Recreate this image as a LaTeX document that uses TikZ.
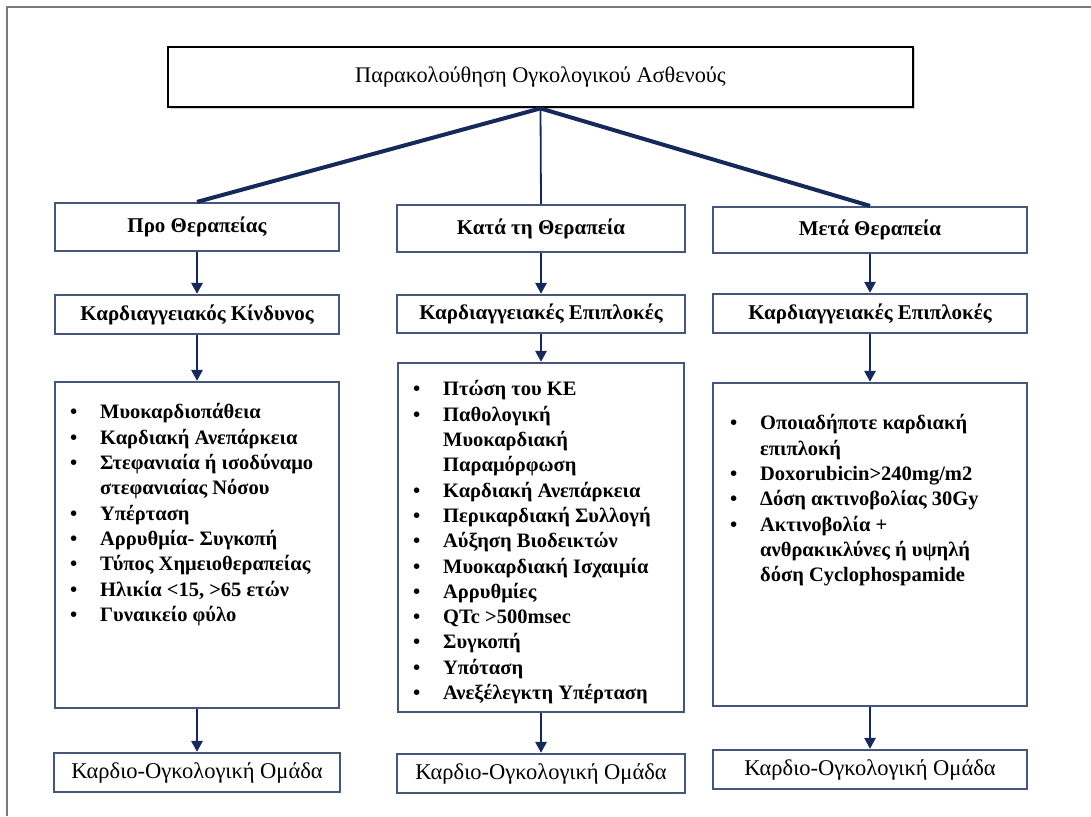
\documentclass[tikz,border=0pt]{standalone}
\usepackage{fontspec}
\setmainfont{Liberation Serif}
\usetikzlibrary{arrows.meta,shadows}

\definecolor{navy}{HTML}{16295A}
\definecolor{boxline}{HTML}{45567A}
\definecolor{framegray}{HTML}{7A7A7A}

\newcommand{\bul}{\llap{\textbullet\hspace{23pt}}}

\tikzset{
  topbox/.style={draw=black, line width=2.8pt, fill=white, inner sep=0pt,
    drop shadow={shadow xshift=1.5pt, shadow yshift=-1.5pt, opacity=0.35},
    font=\fontsize{22.3}{26}\selectfont},
  stagebox/.style={draw=boxline, line width=2.2pt, fill=white, inner sep=0pt,
    drop shadow={shadow xshift=1.2pt, shadow yshift=-1.2pt, opacity=0.2},
    font=\fontsize{21}{25}\selectfont\bfseries},
  teambox/.style={stagebox, font=\fontsize{22.5}{26}\selectfont},
  listtext/.style={anchor=north west, inner sep=0pt, align=left,
    font=\fontsize{20.5}{25.3}\selectfont\bfseries},
  branch/.style={draw=navy, line width=4pt},
  trunk/.style={draw=navy, line width=1.8pt},
  flow/.style={draw=navy, line width=2.8pt,
    -{Triangle[length=11pt, width=11pt]}},
}

\begin{document}
\begin{tikzpicture}[x=1pt, y=-1pt]
  \useasboundingbox (0,0) rectangle (1091,816);
  \fill[white] (0,0) rectangle (1091,816);

  % page frame (top and left edges)
  \draw[framegray, line width=1.6pt] (7,816) -- (7,7) -- (1091,7);

  % title
  \node[topbox, minimum width=745pt, minimum height=60pt] (top) at (540.5,77)
    {Παρακολούθηση Ογκολογικού Ασθενούς};

  % left column
  \node[stagebox, minimum width=284pt, minimum height=48pt] (L1) at (197,227) {Προ Θεραπείας};
  \node[stagebox, minimum width=284pt, minimum height=39pt] (L2) at (197,314.5) {Καρδιαγγειακός Κίνδυνος};
  \node[stagebox, minimum width=284pt, minimum height=326pt] (L3) at (197,545) {};
  \node[teambox, minimum width=286pt, minimum height=39pt] (L4) at (197,772.5) {Καρδιο-Ογκολογική Ομάδα};

  % middle column
  \node[stagebox, minimum width=288pt, minimum height=47pt] (M1) at (541,228.5) {Κατά τη Θεραπεία};
  \node[stagebox, minimum width=288pt, minimum height=38pt] (M2) at (541,314) {Καρδιαγγειακές Επιπλοκές};
  \node[stagebox, minimum width=286pt, minimum height=349pt] (M3) at (541,537.5) {};
  \node[teambox, minimum width=288pt, minimum height=39pt] (M4) at (541,773.5) {Καρδιο-Ογκολογική Ομάδα};

  % right column
  \node[stagebox, minimum width=314pt, minimum height=46pt] (R1) at (870,230) {Μετά Θεραπεία};
  \node[stagebox, minimum width=314pt, minimum height=39pt] (R2) at (870,313.5) {Καρδιαγγειακές Επιπλοκές};
  \node[stagebox, minimum width=314pt, minimum height=323pt] (R3) at (870,544.5) {};
  \node[teambox, minimum width=314pt, minimum height=39pt] (R4) at (870,769.5) {Καρδιο-Ογκολογική Ομάδα};

  % bullet lists
  \node[listtext] (L3t) at (100,401) {%
    \strut\bul Μυοκαρδιοπάθεια\\
    \bul Καρδιακή Ανεπάρκεια\\
    \bul Στεφανιαία ή ισοδύναμο\\
    στεφανιαίας Νόσου\\
    \bul Υπέρταση\\
    \bul Αρρυθμία- Συγκοπή\\
    \bul Τύπος Χημειοθεραπείας\\
    \bul Ηλικία <15, >65 ετών\\
    \bul Γυναικείο φύλο};

  \node[listtext] (M3t) at (443,378) {%
    \strut\bul Πτώση του ΚΕ\\
    \bul Παθολογική\\
    Μυοκαρδιακή\\
    Παραμόρφωση\\
    \bul Καρδιακή Ανεπάρκεια\\
    \bul Περικαρδιακή Συλλογή\\
    \bul Αύξηση Βιοδεικτών\\
    \bul Μυοκαρδιακή Ισχαιμία\\
    \bul Αρρυθμίες\\
    \bul QTc >500msec\\
    \bul Συγκοπή\\
    \bul Υπόταση\\
    \bul Ανεξέλεγκτη Υπέρταση};

  \node[listtext] (R3t) at (760,412) {%
    \strut\bul Οποιαδήποτε καρδιακή\\
    επιπλοκή\\
    \bul Doxorubicin>240mg/m2\\
    \bul Δόση ακτινοβολίας 30Gy\\
    \bul Ακτινοβολία +\\
    ανθρακικλύνες ή υψηλή\\
    δόση Cyclophospamide};

  % branches from the title
  \draw[branch] (top.south) -- (L1.north);
  \draw[trunk]  (top.south) -- (M1.north);
  \draw[branch] (top.south) -- (R1.north);

  % flow within each column
  \foreach \c in {L,M,R} {
    \draw[flow] (\c1.south) -- (\c2.north);
    \draw[flow] (\c2.south) -- (\c3.north);
    \draw[flow] (\c3.south) -- (\c4.north);
  }
\end{tikzpicture}
\end{document}
